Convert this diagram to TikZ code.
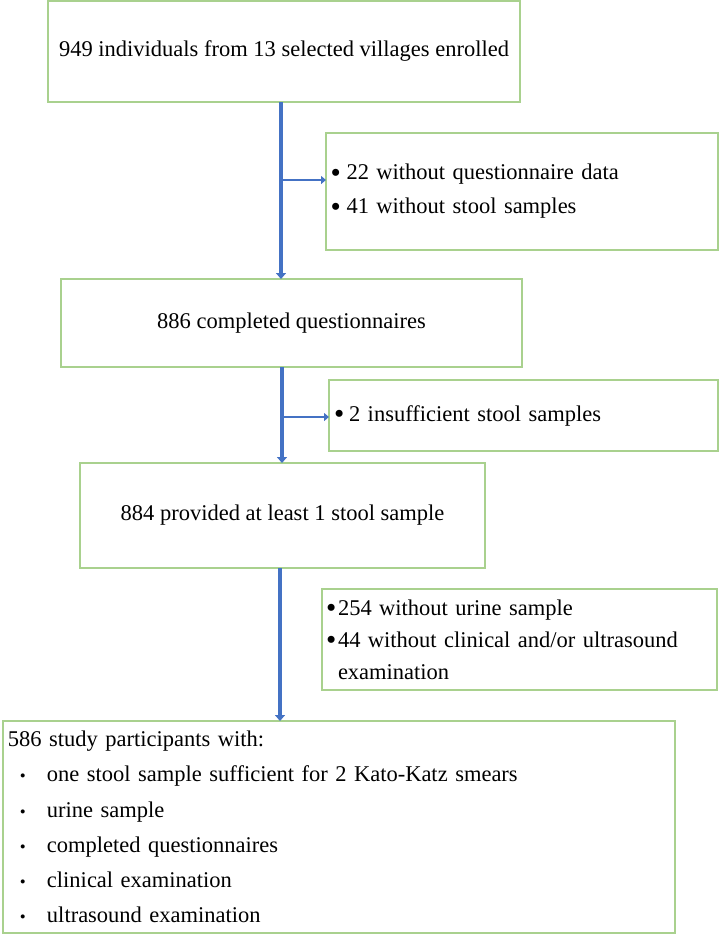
\documentclass[tikz,border=0pt]{standalone}
\usepackage{fontspec}
\setmainfont{Liberation Serif}
\usetikzlibrary{arrows.meta}
\definecolor{boxgreen}{HTML}{A9D18E}
\definecolor{flowblue}{HTML}{4472C4}
\definecolor{flowdark}{HTML}{2F5597}
\tikzset{
  flowbox/.style={draw=boxgreen, line width=1.3pt, fill=white, inner sep=0pt, outer sep=0pt,
    font=\fontsize{22.5}{34}\selectfont},
  vflow/.style={draw=flowblue, line width=3.6pt, -{Triangle[length=6pt,width=10pt]}},
  hflow/.style={draw=flowblue, line width=2.6pt, -{Triangle[length=5pt,width=8pt]}},
}
\newcommand{\bl}[1]{\makebox[#1][l]{\raisebox{-2.3pt}{\scalebox{1.3}{\textbullet}}}}
\newcommand{\sbl}{\hspace*{12pt}\makebox[27pt][l]{\scalebox{0.75}{\textbullet}}}
\begin{document}
\begin{tikzpicture}[x=1pt,y=-1pt]
\useasboundingbox (0,0) rectangle (720,935);
% main boxes
\node[flowbox, minimum width=472pt, minimum height=101pt, align=center] (box1) at (284,51.5)
  {949 individuals from 13 selected villages enrolled};
\node[flowbox, minimum width=461pt, minimum height=88pt, align=center] (box2) at (291.5,323)
  {886 completed  questionnaires};
\node[flowbox, minimum width=405pt, minimum height=105pt, align=center] (box3) at (282.5,515.5)
  {884 provided at least 1 stool sample};
% side boxes
\node[flowbox, minimum width=392pt, minimum height=117pt, text width=383pt, inner xsep=4.5pt, align=left] (side1) at (522,191.5)
  {\bl{16pt}22 without questionnaire data\\ \bl{16pt}41 without stool samples};
\node[flowbox, minimum width=389pt, minimum height=71pt, text width=379pt, inner xsep=5pt, align=left] (side2) at (523.5,415.5)
  {\bl{15pt}2 insufficient stool samples};
\node[flowbox, minimum width=395pt, minimum height=101pt, text width=387pt, inner xsep=4pt, align=left,
  font=\fontsize{22.5}{32}\selectfont] (side3) at (519.5,639.5)
  {\bl{12pt}254 without urine sample\\ \bl{12pt}44 without clinical and/or ultrasound\\ \hspace*{12pt}examination};
% final box
\node[flowbox, minimum width=672pt, minimum height=212pt, text width=662pt, inner xsep=5pt, align=left,
  font=\fontsize{22.5}{35.2}\selectfont] (box4) at (339,827)
  {586 study participants with:\\
   \sbl one stool sample sufficient for 2 Kato-Katz smears\\
   \sbl urine sample\\
   \sbl completed questionnaires\\
   \sbl clinical examination\\
   \sbl ultrasound examination};
% connectors
\coordinate (j1) at (281,180);
\coordinate (j2) at (282,417);
\coordinate (j3) at (280,640);
\draw[vflow] (j1 |- box1.south) -- (j1 |- box2.north);
\draw[hflow] (j1) -- (side1.west |- j1);
\draw[vflow] (j2 |- box2.south) -- (j2 |- box3.north);
\draw[hflow] (j2) -- (side2.west |- j2);
\draw[vflow] (j3 |- box3.south) -- (j3 |- box4.north);
\end{tikzpicture}
\end{document}
